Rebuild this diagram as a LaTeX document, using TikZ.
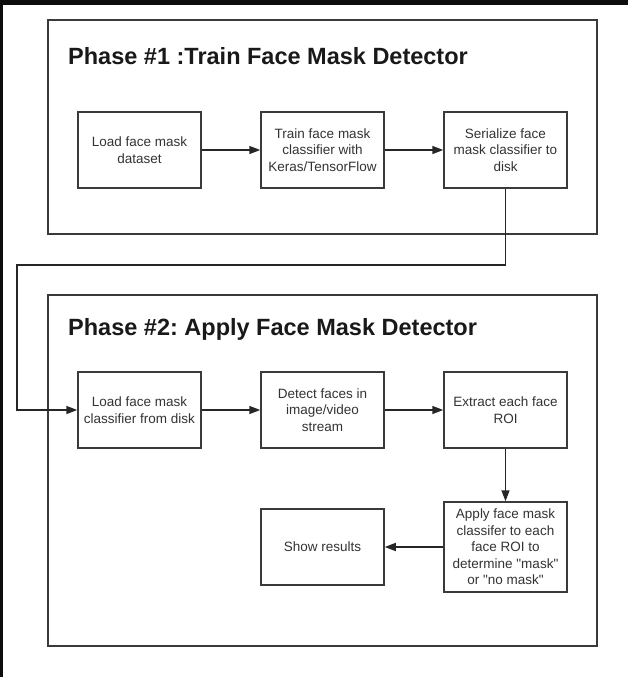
\documentclass[tikz,border=0pt]{standalone}
\usepackage{fontspec}
\setmainfont{Liberation Sans}
\newfontfamily\arialfont{Liberation Sans}
\usetikzlibrary{arrows.meta}
\usetikzlibrary{positioning}
\definecolor{linegray}{HTML}{3A3A3A}
\definecolor{txtgray}{HTML}{333333}
\frenchspacing

\begin{document}
\begin{tikzpicture}[x=1pt, y=-1pt, >={Triangle[length=11pt,width=8pt]}]
  \tikzset{stepbox/.style={rectangle, draw=linegray, line width=1.5pt, minimum width=123pt, minimum height=76pt, inner sep=1pt, align=center, text=txtgray, font=\arialfont\fontsize{13.5}{16.5}\selectfont}}
  \tikzset{phasebox/.style={rectangle, draw=linegray, line width=1.5pt, minimum width=549pt, inner sep=0pt}}
  \tikzset{phasetitle/.style={anchor=west, inner sep=0pt, text=black!90, font=\arialfont\fontsize{23.5}{28}\selectfont\bfseries}}
  \tikzset{flow/.style={->, draw=black!85, line width=1.5pt}}

  %--- page ---
  \useasboundingbox (0,0) rectangle (628,677);
  \fill[white] (0,0) rectangle (628,677);
  \fill[black!95] (0,0) rectangle (628,5);
  \fill[black!95] (0,0) rectangle (3,677);

  %--- phase frames ---
  \node[phasebox, minimum height=214pt] (phaseA) at (322.5,127) {};
  \node[phasebox, minimum height=351pt] (phaseB) at (322.5,470.5) {};
  \node[phasetitle] (titleA) at (68,56) {Phase \#1 :Train Face Mask Detector};
  \node[phasetitle] (titleB) at (68,329) {Phase \#2: Apply Face Mask Detector};

  %--- phase 1 steps ---
  \node[stepbox] (load) at (139.5,150) {Load face mask\\dataset};
  \node[stepbox] (train) at (322.5,150) {Train face mask\\classifier with\\Keras/TensorFlow};
  \node[stepbox] (save) at (505.5,150) {Serialize face\\mask classifier to\\disk};

  %--- phase 2 steps ---
  \node[stepbox] (loadclf) at (139.5,410) {Load face mask\\classifier from disk};
  \node[stepbox] (detect) at (322.5,410) {Detect faces in\\image/video\\stream};
  \node[stepbox] (roi) at (505.5,410) {Extract each face\\ROI};
  \node[stepbox, minimum height=90pt] (apply) at (505.5,547) {Apply face mask\\classifer to each\\face ROI to\\determine "mask"\\or "no mask"};
  \node[stepbox] (show) at (322.5,547) {Show results};

  %--- connectors ---
  \draw[flow] (load) -- (train);
  \draw[flow] (train) -- (save);

  \coordinate (bendA) at (17,265);
  \draw[flow] (save.south) |- (bendA) |- (loadclf.west);

  \draw[flow] (loadclf) -- (detect);
  \draw[flow] (detect) -- (roi);
  \draw[flow] (roi) -- (apply);
  \draw[flow] (apply) -- (show);
\end{tikzpicture}
\end{document}
